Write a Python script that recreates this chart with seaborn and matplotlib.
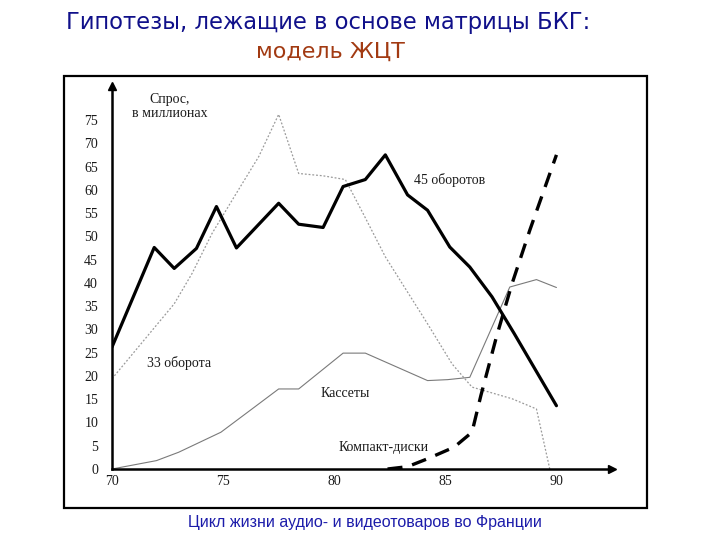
import seaborn as sns
import pandas as pd
from matplotlib import pyplot as plt
from matplotlib.patches import Rectangle

# values (year, demand in millions)
years_45 = [70.0, 71.9, 72.8, 73.8, 74.7, 75.6, 77.5, 78.4, 79.5, 80.4, 81.4, 82.3,
            83.3, 84.2, 85.2, 86.1, 87.1, 88.1, 90.0]
demand_45 = [26.2, 47.6, 43.1, 47.4, 56.4, 47.5, 57.1, 52.6, 51.9, 60.7, 62.2, 67.5,
             58.9, 55.6, 47.7, 43.4, 37.0, 29.1, 13.6]

years_33 = [70.0, 72.8, 73.6, 74.5, 75.5, 76.6, 77.5, 78.4, 79.5, 80.5, 81.3, 82.3,
            84.2, 85.3, 86.2, 88.0, 89.1, 89.7]
demand_33 = [19.4, 35.5, 42.0, 50.6, 58.5, 67.1, 76.2, 63.5, 63.0, 62.2, 54.9, 45.6,
             31.2, 22.6, 17.6, 15.1, 12.9, 0.0]

years_tape = [70.0, 72.0, 73.0, 74.9, 76.3, 77.5, 78.4, 80.4, 81.4, 84.2, 85.1, 86.1,
              87.9, 89.1, 90.0]
demand_tape = [0.0, 1.8, 3.6, 7.9, 12.9, 17.2, 17.2, 24.9, 24.9, 19.0, 19.2, 19.7,
               39.1, 40.7, 39.0]

years_cd = [82.4, 83.3, 84.2, 85.4, 86.2, 86.6, 87.3, 88.0, 88.8, 90.0]
demand_cd = [0.0, 0.5, 2.2, 4.7, 7.9, 15.8, 28.4, 39.8, 51.3, 67.5]

y_ticks = list(range(0, 80, 5))
x_ticks = [70, 75, 80, 85, 90]

sns.set_style("white")
plt.rcParams['font.family'] = ['Liberation Serif', 'DejaVu Serif']

fig = plt.figure(figsize=(7.2, 5.4), dpi=100)
ax = fig.add_axes([112 / 720, 1 - 469 / 540, 500 / 720, 383 / 540])

def draw(xs, ys, **kw):
    df = pd.DataFrame({"year": xs, "demand": ys})
    sns.lineplot(data=df, x="year", y="demand", sort=False, ax=ax, **kw)

draw(years_33, demand_33, color="#9a9a9a", lw=0.9, linestyle=(0, (1.5, 1.5)))
draw(years_tape, demand_tape, color="#7a7a7a", lw=0.8)
draw(years_45, demand_45, color="black", lw=2.3)
draw(years_cd, demand_cd, color="black", lw=2.4, linestyle=(0, (4.5, 3)))

ax.set_xlim(70, 92.5)
ax.set_ylim(0, 82.3)
ax.set_xticks(x_ticks)
ax.set_xticks(range(71, 91), minor=True)
ax.set_yticks(y_ticks)
ax.set_xlabel("")
ax.set_ylabel("")
ax.tick_params(axis="both", which="both", direction="in", color="black",
               labelsize=10, labelcolor="#1a1a1a", width=1.2)
ax.tick_params(axis="x", which="major", length=4, pad=4)
ax.tick_params(axis="x", which="minor", length=4)
ax.tick_params(axis="y", length=3, pad=10)
for side in ["top", "right"]:
    ax.spines[side].set_visible(False)
for side in ["left", "bottom"]:
    ax.spines[side].set_linewidth(1.8)
    ax.spines[side].set_color("black")
ax.plot(1, 0, ">", color="black", ms=6, transform=ax.transAxes, clip_on=False)
ax.plot(0, 1, "^", color="black", ms=6, transform=ax.transAxes, clip_on=False)

lab = dict(fontsize=10, color="#1a1a1a", ha="center", va="center")
ax.text(72.6, 79.3, "Спрос,", **lab)
ax.text(72.6, 76.3, "в миллионах", **lab)
ax.text(85.2, 62.2, "45 оборотов", **lab)
ax.text(73.0, 22.8, "33 оборота", **lab)
ax.text(80.5, 16.3, "Кассеты", **lab)
ax.text(82.2, 4.7, "Компакт-диски", **lab)

fig.patches.append(Rectangle((64 / 720, 1 - 508 / 540), 583 / 720, 432 / 540,
                             transform=fig.transFigure, fill=False,
                             edgecolor="black", lw=1.6))

fig.text(328 / 720, 1 - 22 / 540, "Гипотезы, лежащие в основе матрицы БКГ:",
         ha="center", va="center", fontsize=16.3, color="#10108a",
         family=["DejaVu Sans"])
fig.text(330 / 720, 1 - 52 / 540, "модель ЖЦТ", ha="center", va="center",
         fontsize=16, color="#a23a12", family=["DejaVu Sans"])
fig.text(365 / 720, 1 - 522 / 540, "Цикл жизни аудио- и видеотоваров во Франции",
         ha="center", va="center", fontsize=11.5, color="#1c1caa",
         family=["Liberation Sans"])

plt.savefig("out.png", dpi=100)
